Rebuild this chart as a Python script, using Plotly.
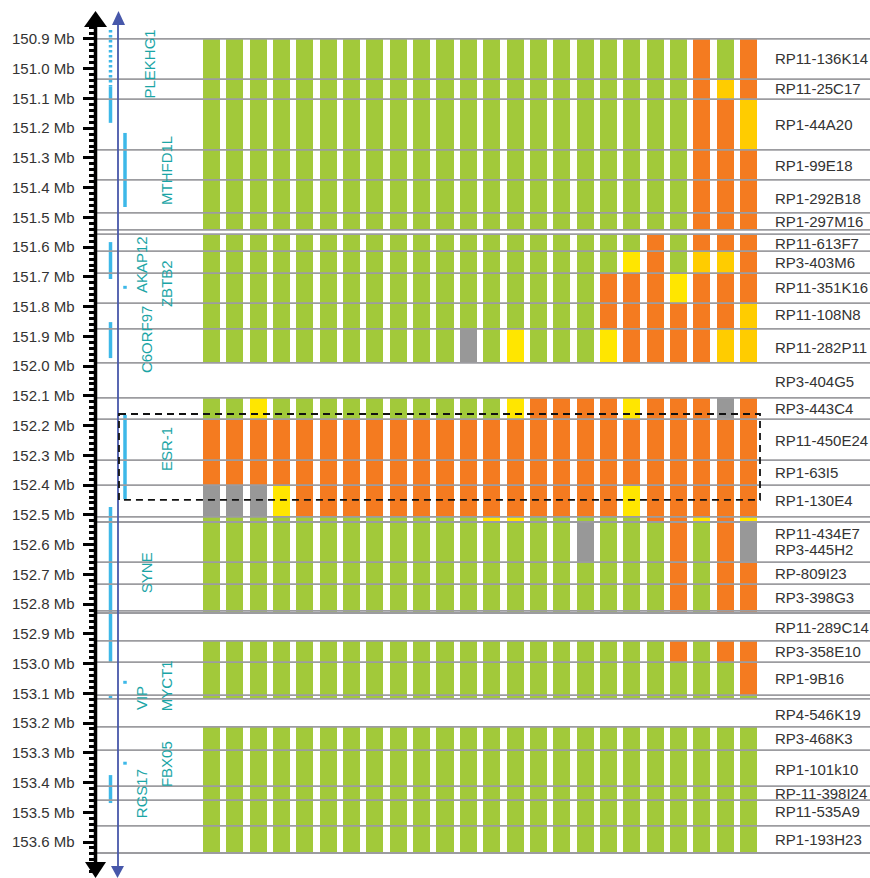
import plotly.graph_objects as go

# BAC clone segments on chromosome 6q25.1 (Mb), top to bottom
seg_start = [150.900, 151.035, 151.102, 151.273, 151.374, 151.485,
             151.556, 151.613, 151.687, 151.788, 151.875,
             152.107, 152.178, 152.316, 152.400, 152.507, 152.524, 152.659, 152.733, 152.823,
             152.924, 152.995, 153.106,
             153.213, 153.291, 153.412, 153.459, 153.546]
seg_end = [151.035, 151.102, 151.273, 151.374, 151.485, 151.542,
           151.613, 151.687, 151.788, 151.875, 151.989,
           152.178, 152.316, 152.400, 152.507, 152.524, 152.659, 152.733, 152.823, 152.830,
           152.995, 153.106, 153.119,
           153.291, 153.412, 153.459, 153.546, 153.637]

# call per sample (24 columns): G normal, O amplified, Y gain, D gain (strong), X no data
calls = [
    "GGGGGGGGGGGGGGGGGGGGGOGO",
    "GGGGGGGGGGGGGGGGGGGGGODO",
    "GGGGGGGGGGGGGGGGGGGGGOOD",
    "GGGGGGGGGGGGGGGGGGGGGOOO",
    "GGGGGGGGGGGGGGGGGGGGGOOO",
    "GGGGGGGGGGGGGGGGGGGGGOOO",
    "GGGGGGGGGGGGGGGGGGGOGOOO",
    "GGGGGGGGGGGGGGGGGGYOGDDO",
    "GGGGGGGGGGGGGGGGGOOOYOOO",
    "GGGGGGGGGGGGGGGGGOOOOOOD",
    "GGGGGGGGGGGXGYGGGYOOOODD",
    "GGYGGGGGGGGGGYOOOOYOOOXO",
    "OOOOOOOOOOOOOOOOOOOOOOOO",
    "OOOOOOOOOOOOOOOOOOOOOOOO",
    "XXXYOOOOOOOOOOOOOOYOOOOO",
    "GGGGGGGGGGGGYYGGGGGOOYOY",
    "GGGGGGGGGGGGGGGGXGGGOGOX",
    "GGGGGGGGGGGGGGGGGGGGOGOO",
    "GGGGGGGGGGGGGGGGGGGGOGOO",
    "GGGGGGGGGGGGGGGGGGGGOGOO",
    "GGGGGGGGGGGGGGGGGGGGOGOO",
    "GGGGGGGGGGGGGGGGGGGGGGGO",
    "GGGGGGGGGGGGGGGGGGGGGGGG",
    "GGGGGGGGGGGGGGGGGGGGGGGG",
    "GGGGGGGGGGGGGGGGGGGGGGGG",
    "GGGGGGGGGGGGGGGGGGGGGGGG",
    "GGGGGGGGGGGGGGGGGGGGGGGG",
    "GGGGGGGGGGGGGGGGGGGGGGGG",
]

# clone names and where they sit (Mb)
clone_names = ["RP11-136K14", "RP11-25C17", "RP1-44A20", "RP1-99E18", "RP1-292B18",
               "RP1-297M16", "RP11-613F7", "RP3-403M6", "RP11-351K16", "RP11-108N8",
               "RP11-282P11", "RP3-404G5", "RP3-443C4", "RP11-450E24", "RP1-63I5",
               "RP1-130E4", "RP11-434E7", "RP3-445H2", "RP-809I23", "RP3-398G3",
               "RP11-289C14", "RP3-358E10", "RP1-9B16", "RP4-546K19", "RP3-468K3",
               "RP1-101k10", "RP-11-398I24", "RP11-535A9", "RP1-193H23"]
clone_mb = [150.967, 151.068, 151.189, 151.324, 151.435, 151.515, 151.586, 151.653,
            151.734, 151.828, 151.936, 152.050, 152.144, 152.250, 152.358, 152.452,
            152.562, 152.618, 152.698, 152.778, 152.880, 152.961, 153.051, 153.170,
            153.252, 153.355, 153.436, 153.496, 153.590]

# genes
gene_names = ["PLEKHG1", "MTHFD1L", "AKAP12", "ZBTB2", "C6ORF97", "ESR-1",
              "SYNE", "VIP", "MYCT1", "FBX05", "RGS17"]
gene_start = [151.061, 151.216, 151.583, 151.730, 151.852, 152.164,
              152.474, 153.107, 153.058, 153.330, 153.375]
gene_end = [151.182, 151.465, 151.707, 151.740, 151.973, 152.447,
            152.995, 153.117, 153.068, 153.340, 153.469]
gene_lane = [0, 1, 0, 1, 0, 1, 0, 0, 1, 1, 0]
plekhg1_dotted = [150.870, 151.061]

major_ticks = [round(150.9 + 0.1 * k, 1) for k in range(28)]
minor_ticks = [round(150.84 + 0.02 * k, 2) for k in range(144)]
minor_ticks = [t for t in minor_ticks if all(abs(t - m) > 0.005 for m in major_ticks)]

colors = {"G": "#A2C93A", "O": "#F47B20", "Y": "#FFE600", "D": "#FFCC00", "X": "#989898"}

W, H = 870, 878
Y_TOP, Y_BOT = 150.769, 153.721
X0, STEP = 211.5, 23.35  # pixel of first column centre, column spacing


def col_x(p):
    return (p - X0) / STEP


def px(p):
    return p / W


def py(p):
    return 1 - p / H


fig = go.Figure()

for code, col in colors.items():
    xs, bases, lens = [], [], []
    for s, row in enumerate(calls):
        for c, v in enumerate(row):
            if v == code:
                xs.append(c)
                bases.append(seg_start[s])
                lens.append(seg_end[s] - seg_start[s])
    fig.add_trace(go.Bar(x=xs, y=lens, base=bases, width=0.73, marker_color=col,
                         marker_line_width=0, showlegend=False, hoverinfo="skip"))

# gene bars
lane_px = [110.5, 125]
for name, a, b, lane in zip(gene_names, gene_start, gene_end, gene_lane):
    fig.add_trace(go.Scatter(x=[col_x(lane_px[lane])] * 2, y=[a, b], mode="lines",
                             line=dict(color="#3DB8E8", width=3.5), showlegend=False,
                             hoverinfo="skip"))
fig.add_trace(go.Scatter(x=[col_x(lane_px[0])] * 2, y=plekhg1_dotted, mode="lines",
                         line=dict(color="#3DB8E8", width=3.5, dash="2.5px,2.5px"),
                         showlegend=False, hoverinfo="skip"))

shapes = []
# clone boundary lines
bounds = sorted(set(seg_start) | set(seg_end))
for b in bounds:
    shapes.append(dict(type="line", xref="paper", yref="y", x0=px(97), x1=1, y0=b, y1=b,
                       line=dict(color="#9C9CA0", width=1.8), layer="above"))

# black axis with arrows
shapes.append(dict(type="line", xref="paper", yref="paper", x0=px(95.5), x1=px(95.5),
                   y0=py(20), y1=py(868), line=dict(color="black", width=3.5)))
shapes.append(dict(type="path", xref="paper", yref="paper",
                   path=f"M {px(84)} {py(27)} L {px(95.5)} {py(11)} L {px(107)} {py(27)} Z",
                   fillcolor="black", line=dict(width=0)))
shapes.append(dict(type="path", xref="paper", yref="paper",
                   path=f"M {px(85)} {py(862)} L {px(95.5)} {py(878)} L {px(106)} {py(862)} Z",
                   fillcolor="black", line=dict(width=0)))
# blue arrow
shapes.append(dict(type="line", xref="paper", yref="paper", x0=px(118), x1=px(118),
                   y0=py(20), y1=py(870), line=dict(color="#4757AA", width=1.8)))
shapes.append(dict(type="path", xref="paper", yref="paper",
                   path=f"M {px(112)} {py(25)} L {px(118.5)} {py(11)} L {px(125)} {py(25)} Z",
                   fillcolor="#4757AA", line=dict(width=0)))
shapes.append(dict(type="path", xref="paper", yref="paper",
                   path=f"M {px(111)} {py(866)} L {px(117.5)} {py(878)} L {px(124)} {py(866)} Z",
                   fillcolor="#4757AA", line=dict(width=0)))
# ESR-1 amplicon box
shapes.append(dict(type="rect", xref="paper", yref="y", x0=px(119), x1=px(760),
                   y0=152.161, y1=152.450, line=dict(color="#111111", width=1.8, dash="7px,5px"),
                   fillcolor="rgba(0,0,0,0)", layer="above"))

annotations = []
for name, y in zip(clone_names, clone_mb):
    annotations.append(dict(x=col_x(773), y=y, xref="x", yref="y", text=name, showarrow=False,
                            xanchor="left", yanchor="middle",
                            font=dict(size=15, color="#333333", family="Arial")))

gene_label_px = [150, 166, 141, 166, 146, 166, 146, 141, 166, 166, 141]
gene_label_mb = [150.986, 151.344, 151.660, 151.724, 151.909, 152.279,
                 152.696, 153.116, 153.076, 153.338, 153.439]
for name, xp, y in zip(gene_names, gene_label_px, gene_label_mb):
    annotations.append(dict(x=col_x(xp), y=y, xref="x", yref="y", text=name, showarrow=False,
                            textangle=-90, xanchor="center", yanchor="middle",
                            font=dict(size=15, color="#1BA5A6", family="Arial")))

fig.update_layout(
    width=W, height=H,
    margin=dict(l=0, r=0, t=0, b=0),
    paper_bgcolor="white", plot_bgcolor="white",
    barmode="overlay",
    bargap=0,
    shapes=shapes,
    annotations=annotations,
    xaxis=dict(range=[col_x(0), col_x(W)], visible=False, domain=[0, 1]),
    yaxis=dict(range=[Y_BOT, Y_TOP], anchor="free", position=px(95.5), side="left",
               showline=False, showgrid=False, zeroline=False,
               ticks="outside", ticklen=13, tickwidth=3, tickcolor="black",
               tickmode="array", tickvals=major_ticks,
               ticktext=[f"{v:.1f} Mb" for v in major_ticks],
               tickfont=dict(size=15, color="#333333", family="Arial"),
               ticklabelstandoff=5,
               minor=dict(tickmode="array", tickvals=minor_ticks, ticks="outside",
                          ticklen=7, tickwidth=2.5, tickcolor="black", showgrid=False)),
)

fig.write_html("out.html", config={"displayModeBar": False},
               post_script="document.body.style.margin='0px';")
